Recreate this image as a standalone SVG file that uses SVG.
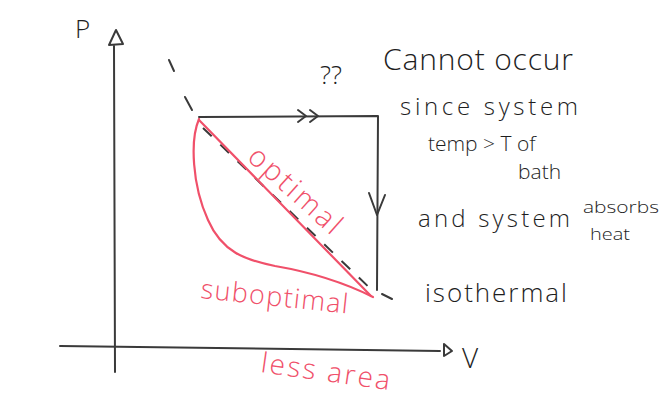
<svg xmlns="http://www.w3.org/2000/svg" width="663" height="402" viewBox="0 0 663 402">
<style>
.ink{fill:none;stroke:#3a3a3a;stroke-width:2;stroke-linecap:round;stroke-linejoin:round}
.red{fill:none;stroke:#f0506a;stroke-width:2.2;stroke-linecap:round;stroke-linejoin:round}
.dash{fill:none;stroke:#3a3a3a;stroke-width:2;stroke-dasharray:12 12}
.t{font-family:"Open Sans","Liberation Sans",sans-serif;fill:#1e1e1e;font-weight:300}
.r{font-family:"Open Sans","Liberation Sans",sans-serif;fill:#f0506a;font-weight:300}
</style>
<rect width="663" height="402" fill="#ffffff"/>
<g id="axes">
<path class="ink" d="M114 46 L115 372"/>
<path class="ink" d="M109 45 L116 30 L123 44 Z"/>
<text class="t" x="75" y="38" font-size="26">P</text>
<path class="ink" d="M60 346 L440 351"/>
<path class="ink" d="M444 344 L444 356 L452 351 Z"/>
<text class="t" x="462" y="368" font-size="28">V</text>
</g>
<g id="connectors">
<path class="ink" d="M199 117 L378 116 L377 290"/>
<path class="ink" d="M298 110 L306 116 L298 122 M310 110 L318 116 L310 122"/>
<path class="ink" d="M369 193 L377 215 L385 195"/>
<path class="ink" d="M169 60 L174 71 M185 97 L192 110"/>
<path class="dash" d="M203 128 L376 294"/>
<path class="ink" d="M382 294 L392 299"/>
<path class="red" d="M199 120 L371 296"/>
<path class="red" d="M199 119 C190 140 192 185 208 220 C222 252 245 260 275 266 C310 272 345 283 373 297"/>
</g>
<g id="labels">
<text class="t" x="320" y="84" font-size="26">??</text>
<text class="t" x="383" y="70" font-size="30" textLength="190" lengthAdjust="spacing">Cannot occur</text>
<text class="t" x="400" y="115" font-size="24" textLength="178" lengthAdjust="spacing">since system</text>
<text class="t" x="428" y="151" font-size="21">temp &gt; T of</text>
<text class="t" x="518" y="179" font-size="21">bath</text>
<text class="t" x="418" y="227" font-size="24" textLength="152" lengthAdjust="spacing">and system</text>
<text class="t" x="583" y="213" font-size="17" textLength="76" lengthAdjust="spacingAndGlyphs">absorbs</text>
<text class="t" x="590" y="240" font-size="17" textLength="40" lengthAdjust="spacingAndGlyphs">heat</text>
<text class="t" x="425" y="302" font-size="26" textLength="142" lengthAdjust="spacing">isothermal</text>
<text class="r" x="0" y="0" font-size="29" textLength="115" lengthAdjust="spacing" transform="translate(246 159) rotate(42)">optimal</text>
<text class="r" x="0" y="0" font-size="27" textLength="148" lengthAdjust="spacing" transform="translate(200 298) rotate(6)">suboptimal</text>
<text class="r" x="0" y="0" font-size="28" textLength="130" lengthAdjust="spacing" transform="translate(260 372) rotate(8)">less area</text>
</g>
</svg>
